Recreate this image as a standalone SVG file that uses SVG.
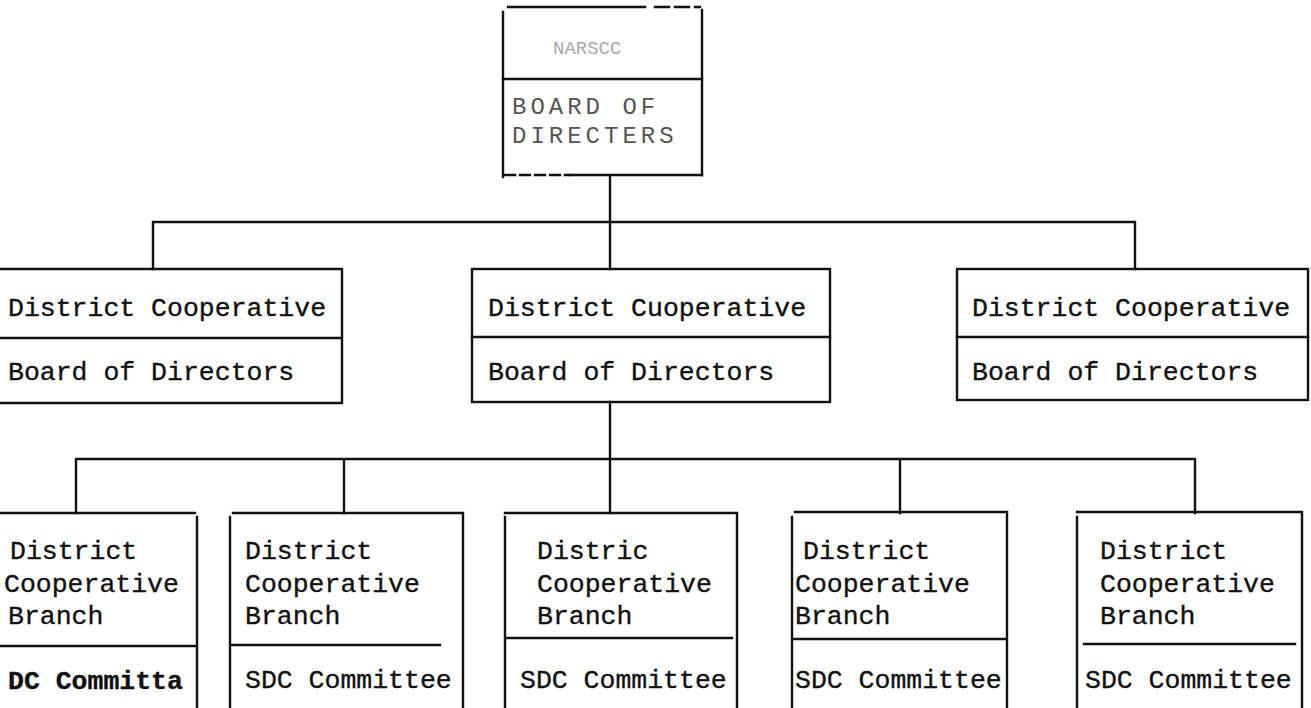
<svg xmlns="http://www.w3.org/2000/svg" width="1311" height="708" viewBox="0 0 1311 708">
<style>
.ln{stroke:#111;stroke-width:2.4;fill:none;stroke-linecap:square}
.tx{font-family:"Liberation Mono","DejaVu Sans Mono",monospace;font-size:26.5px;fill:#111;stroke:#111;stroke-width:0.35}
.tp{font-family:"Liberation Mono","DejaVu Sans Mono",monospace;font-size:24px;fill:#555;letter-spacing:4px}
</style>
<rect width="1311" height="708" fill="#fff"/>
<g id="connectors">
<path class="ln" d="M610,177V269M153,269V222H1135V269"/>
<path class="ln" d="M610,402V513M76,513V459H1195V513M344,459V513M900,459V513"/>
</g>
<g id="top">
<path class="ln" stroke="#333" d="M508,7H645M503,12V177M702,10V175"/>
<path class="ln" stroke="#333" stroke-dasharray="14,6" d="M655,7H700"/>
<path class="ln" stroke="#333" d="M503,79H702"/>
<path class="ln" stroke="#333" stroke-dasharray="10,5" d="M505,175H570"/>
<path class="ln" stroke="#333" d="M570,175H702"/>
<text x="553" y="54" class="tp" style="font-size:19px;fill:#aaa;letter-spacing:0">NARSCC</text>
<text x="512" y="114" class="tp">BOARD OF</text>
<text x="512" y="143" class="tp">DIRECTERS</text>
</g>
<g id="dc-left">
<path class="ln" d="M-5,269H342V403H-5M-5,338H342"/>
<text x="8" y="316" class="tx">District Cooperative</text>
<text x="8" y="380" class="tx">Board of Directors</text>
</g>
<g id="dc-mid">
<rect class="ln" x="472" y="269" width="358" height="133"/>
<path class="ln" d="M472,337H830"/>
<text x="488" y="316" class="tx">District Cuoperative</text>
<text x="488" y="380" class="tx">Board of Directors</text>
</g>
<g id="dc-right">
<rect class="ln" x="957" y="269" width="351" height="131"/>
<path class="ln" d="M957,337H1308"/>
<text x="972" y="316" class="tx">District Cooperative</text>
<text x="972" y="380" class="tx">Board of Directors</text>
</g>
<g id="br1">
<path class="ln" d="M-5,513H195M197,517V712M-5,646H197"/>
<text x="10" y="559" class="tx">District</text>
<text x="4" y="592" class="tx">Cooperative</text>
<text x="8" y="624" class="tx">Branch</text>
<text x="8" y="689" class="tx" style="font-weight:bold">DC Committa</text>
</g>
<g id="br2">
<path class="ln" d="M230,517V712M233,513H463V712M230,645H440"/>
<text x="245" y="559" class="tx">District</text>
<text x="245" y="592" class="tx">Cooperative</text>
<text x="245" y="624" class="tx">Branch</text>
<text x="245" y="688" class="tx">SDC Committee</text>
</g>
<g id="br3">
<path class="ln" d="M505,517V712M505,513H737V712M505,638H732"/>
<text x="537" y="559" class="tx">Distric</text>
<text x="537" y="592" class="tx">Cooperative</text>
<text x="537" y="624" class="tx">Branch</text>
<text x="520" y="688" class="tx">SDC Committee</text>
</g>
<g id="br4">
<path class="ln" d="M792,517V712M795,512H1007V712M792,639H1007"/>
<text x="803" y="559" class="tx">District</text>
<text x="795" y="592" class="tx">Cooperative</text>
<text x="795" y="624" class="tx">Branch</text>
<text x="795" y="688" class="tx">SDC Committee</text>
</g>
<g id="br5">
<path class="ln" d="M1077,517V712M1077,512H1302V712M1084,644H1295"/>
<text x="1100" y="559" class="tx">District</text>
<text x="1100" y="592" class="tx">Cooperative</text>
<text x="1100" y="624" class="tx">Branch</text>
<text x="1085" y="688" class="tx">SDC Committee</text>
</g>
</svg>
